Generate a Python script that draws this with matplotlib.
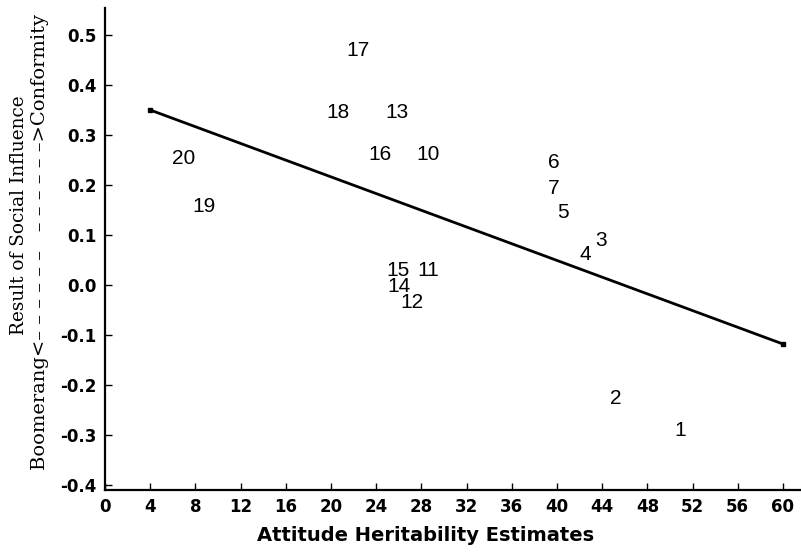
import matplotlib
matplotlib.use("Agg")
import matplotlib.pyplot as plt

# Data: attitude labels with (heritability, social influence)
labels = ["1", "2", "3", "4", "5", "6", "7", "10", "11", "12",
          "13", "14", "15", "16", "17", "18", "19", "20"]
heritability = [50.9, 45.2, 43.9, 42.5, 40.5, 39.7, 39.7, 28.6, 28.6, 27.2,
                25.8, 26.0, 25.9, 24.3, 22.4, 20.6, 8.8, 7.0]
influence = [-0.29, -0.226, 0.09, 0.06, 0.144, 0.244, 0.194, 0.262, 0.028, -0.034,
             0.344, -0.004, 0.028, 0.262, 0.470, 0.344, 0.158, 0.252]

fit_x = [4, 60]
fit_y = [0.35, -0.118]

xticks = list(range(0, 61, 4))
yticks = [-0.4, -0.3, -0.2, -0.1, 0.0, 0.1, 0.2, 0.3, 0.4, 0.5]

fig = plt.figure(figsize=(8.01, 5.52), dpi=100)
ax = fig.add_axes([105/801, 1 - 490/552, 1 - 105/801, (490 - 8)/552])

ax.plot(fit_x, fit_y, color="black", lw=2.0, marker="s", markersize=3.5)

for lab, x, y in zip(labels, heritability, influence):
    ax.text(x, y, lab, ha="center", va="center", fontsize=15,
            family="Liberation Sans", color="black")

ax.set_xlim(0, 61.6)
ax.set_ylim(-0.41, 0.554)
ax.set_xticks(xticks)
ax.set_yticks(yticks)
ax.set_xticklabels([str(t) for t in xticks])
ax.set_yticklabels([f"{t:.1f}" for t in yticks])
for lbl in ax.get_xticklabels() + ax.get_yticklabels():
    lbl.set_fontweight("bold")
    lbl.set_fontsize(12)
    lbl.set_family("DejaVu Sans")

ax.tick_params(direction="in", length=5, width=1, colors="black")
ax.tick_params(axis="y", pad=6)
ax.tick_params(axis="x", pad=6)
for s in ["top", "right"]:
    ax.spines[s].set_visible(False)
for s in ["left", "bottom"]:
    ax.spines[s].set_linewidth(1.6)

ax.set_xlabel("Attitude Heritability Estimates", fontsize=14,
              fontweight="bold", family="DejaVu Sans")
ax.xaxis.set_label_coords((426 - 105) / (801 - 105), -(526 - 490) / 482)

fig.text(19/801, 1 - 215/552, "Result of Social Influence", rotation=90,
         ha="center", va="center", fontsize=13.3, family="DejaVu Serif")
fig.text(40/801, 1 - 242/552,
         "Boomerang<\u2013 \u2013 \u2013 \u2013 \u2013 \u2013   \u2013 \u2013 \u2013 \u2013 \u2013 \u2013>Conformity",
         rotation=90, ha="center", va="center", fontsize=14, family="DejaVu Serif")

fig.savefig("out.png", dpi=100)
